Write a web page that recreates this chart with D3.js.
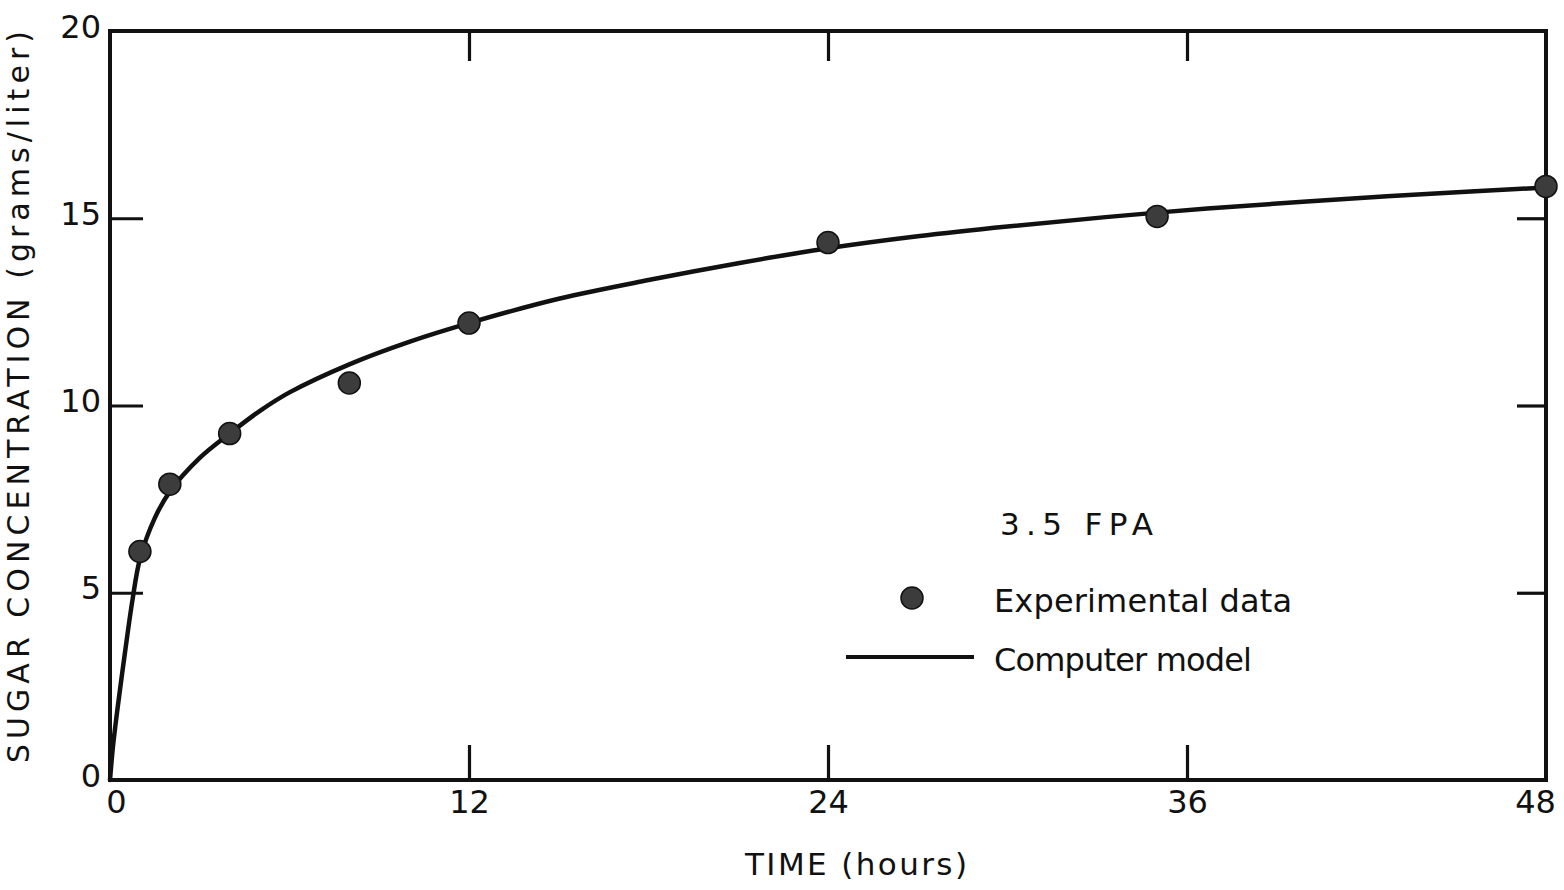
<!DOCTYPE html>
<html>
<head>
<meta charset="utf-8">
<script src="https://cdn.jsdelivr.net/npm/d3@7"></script>
<style>
  html, body { margin: 0; padding: 0; background: #fff; }
  svg { display: block; }
  text { font-family: "DejaVu Sans", "Liberation Sans", sans-serif; fill: #111; }
</style>
</head>
<body>
<svg id="chart" width="1564" height="890"></svg>
<script>
// Measured sugar concentration (g/L) versus hydrolysis time (h)
const expTime = [1, 2, 4, 8, 12, 24, 35, 48];
const expSugar = [6.1, 7.9, 9.25, 10.6, 12.2, 14.35, 15.05, 15.85];

// Computer model prediction
const modelTime = [0, 0.1, 0.25, 0.5, 0.75, 1, 1.5, 2, 3, 4, 5, 6, 8, 10, 12, 15, 18, 21, 24, 27, 30, 35, 40, 44, 48];
const modelSugar = [0, 0.9, 1.9, 3.4, 4.8, 5.9, 7.0, 7.7, 8.6, 9.25, 9.85, 10.35, 11.1, 11.7, 12.2, 12.85, 13.35, 13.8, 14.2, 14.52, 14.78, 15.15, 15.45, 15.65, 15.82];

const xTickLabels = [0, 12, 24, 36, 48];
const yTickLabels = [0, 5, 10, 15, 20];
const xInnerTicks = [12, 24, 36];
const yInnerTicks = [5, 10, 15];

const svg = d3.select("#chart");
const x = d3.scaleLinear().domain([0, 48]).range([110, 1546]);
const y = d3.scaleLinear().domain([0, 20]).range([780, 31]);

const ink = "#111";

// inward tick marks on all four sides
function tickMarks(axis, transform, size) {
  const g = svg.append("g").attr("transform", transform).call(axis.tickSize(size).tickFormat(""));
  g.select(".domain").remove();
  g.selectAll(".tick line").attr("stroke", ink).attr("stroke-width", 3.2);
}
tickMarks(d3.axisBottom(x).tickValues(xInnerTicks), `translate(0,${y(0)})`, -35);
tickMarks(d3.axisTop(x).tickValues(xInnerTicks), `translate(0,${y(20)})`, -30);
tickMarks(d3.axisLeft(y).tickValues(yInnerTicks), `translate(${x(0)},0)`, -33);
tickMarks(d3.axisRight(y).tickValues(yInnerTicks), `translate(${x(48)},0)`, -29);

// frame
svg.append("rect")
  .attr("x", x(0)).attr("y", y(20))
  .attr("width", x(48) - x(0)).attr("height", y(0) - y(20))
  .attr("fill", "none").attr("stroke", ink).attr("stroke-width", 4);

// tick labels
const xLab = svg.append("g").attr("transform", `translate(0,${y(0)})`)
  .call(d3.axisBottom(x).tickValues(xTickLabels).tickSize(0).tickPadding(0));
xLab.select(".domain").remove();
xLab.selectAll("text")
  .attr("y", 33).attr("dy", 0)
  .attr("dx", d => d === 0 ? 6 : (d === 48 ? -11 : 0))
  .style("font-size", "32px").attr("fill", ink);

const yLab = svg.append("g").attr("transform", `translate(${x(0)},0)`)
  .call(d3.axisLeft(y).tickValues(yTickLabels).tickSize(0).tickPadding(0));
yLab.select(".domain").remove();
yLab.selectAll("text")
  .attr("x", -9).attr("dy", 6)
  .style("font-size", "32px").attr("fill", ink);

// axis titles
svg.append("text")
  .attr("x", 745).attr("y", 875)
  .attr("textLength", 222).attr("lengthAdjust", "spacing")
  .style("font-size", "31px")
  .text("TIME (hours)");

svg.append("text")
  .attr("transform", "translate(29,763) rotate(-90)")
  .attr("x", 0).attr("y", 0)
  .attr("textLength", 732).attr("lengthAdjust", "spacing")
  .style("font-size", "30px")
  .text("SUGAR CONCENTRATION (grams/liter)");

// model curve
const line = d3.line()
  .x((d, i) => x(modelTime[i]))
  .y((d, i) => y(modelSugar[i]))
  .curve(d3.curveCatmullRom.alpha(0.5));
svg.append("path")
  .datum(modelSugar)
  .attr("d", line)
  .attr("fill", "none").attr("stroke", ink).attr("stroke-width", 4.5)
  .attr("stroke-linejoin", "round").attr("stroke-linecap", "round");

// experimental points
svg.append("g").selectAll("circle")
  .data(expSugar)
  .join("circle")
  .attr("cx", (d, i) => x(expTime[i]))
  .attr("cy", d => y(d))
  .attr("r", 11)
  .attr("fill", "#3c3c3c").attr("stroke", ink).attr("stroke-width", 1.5);

// legend
svg.append("text")
  .attr("x", 1000).attr("y", 535)
  .attr("textLength", 153).attr("lengthAdjust", "spacing")
  .style("font-size", "31px")
  .text("3.5 FPA");

svg.append("circle")
  .attr("cx", 912).attr("cy", 598).attr("r", 11)
  .attr("fill", "#3c3c3c").attr("stroke", ink).attr("stroke-width", 1.5);
svg.append("text")
  .attr("x", 994).attr("y", 612)
  .attr("textLength", 298).attr("lengthAdjust", "spacing")
  .style("font-size", "32px")
  .text("Experimental data");

svg.append("line")
  .attr("x1", 846).attr("x2", 974).attr("y1", 657).attr("y2", 657)
  .attr("stroke", ink).attr("stroke-width", 4);
svg.append("text")
  .attr("x", 994).attr("y", 671)
  .attr("textLength", 258).attr("lengthAdjust", "spacing")
  .style("font-size", "32px")
  .text("Computer model");
</script>
</body>
</html>
